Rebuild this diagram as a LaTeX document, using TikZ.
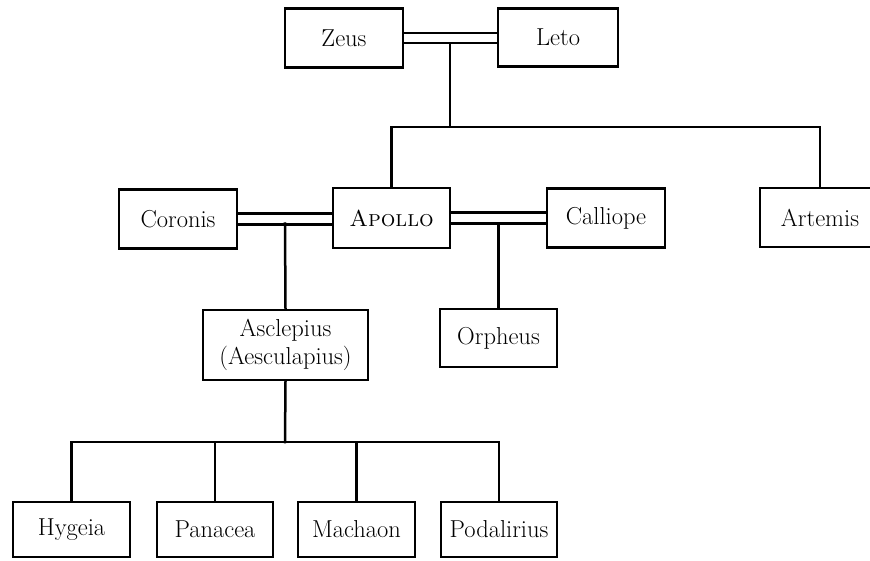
\documentclass[tikz,border=0pt]{standalone}
\usetikzlibrary{calc}
\begin{document}
\begin{tikzpicture}[x=1pt,y=-1pt,
  person/.style={draw, line width=2.5pt, inner sep=0pt, align=center,
    minimum width=118pt, minimum height=59pt,
    font=\fontsize{24.5}{28}\selectfont},
  link/.style={line width=2.5pt, line cap=rect},
]
\useasboundingbox (0,0) rectangle (870,560);
\clip (0,0) rectangle (870,560);

% first generation
\node[person] (Zeus) at (344,38) {Zeus};
\node[person, minimum width=120pt, minimum height=58pt] (Leto) at (558,37.5) {Leto};

% second generation
\node[person] (Coronis) at (178,219) {Coronis};
\node[person, minimum width=117pt, minimum height=60pt, font=\fontsize{23}{28}\selectfont] (Apollo) at (391.5,218) {\textsc{Apollo}};
\node[person] (Calliope) at (606,218) {Calliope};
\node[person, minimum width=120pt] (Artemis) at (820,217.5) {Artemis};

% third generation
\node[person, minimum width=165pt, minimum height=70pt] (Asclepius) at (285.5,345) {Asclepius\\(Aesculapius)};
\node[person, minimum width=117pt, minimum height=58pt] (Orpheus) at (498.5,338) {Orpheus};

% fourth generation
\node[person, minimum width=117pt, minimum height=55pt] (Hygeia) at (71.5,529.5) {Hygeia};
\node[person, minimum width=116pt, minimum height=55pt] (Panacea) at (215,529.5) {Panacea};
\node[person, minimum width=117pt, minimum height=55pt] (Machaon) at (356.5,529.5) {Machaon};
\node[person, minimum width=116pt, minimum height=55pt] (Podalirius) at (499,529.5) {Podalirius};

% junction points
\coordinate (zlDrop) at (450,43);
\coordinate (zlBar) at (450,127);
\coordinate (caDrop) at (285,223.5);
\coordinate (acDrop) at (498.5,223.5);
\coordinate (asBar) at (285,442);

% marriages (double lines)
\draw[link] ([yshift=5pt]Zeus.east) -- ([yshift=5pt]Zeus.east -| Leto.west);
\draw[link] ([yshift=-5pt]Zeus.east) -- ([yshift=-5pt]Zeus.east -| Leto.west);
\draw[link] ([yshift=5.5pt]Coronis.east) -- ([yshift=5.5pt]Coronis.east -| Apollo.west);
\draw[link] ([yshift=-5.5pt]Coronis.east) -- ([yshift=-5.5pt]Coronis.east -| Apollo.west);
\draw[link] ([yshift=5.5pt]Apollo.east) -- ([yshift=5.5pt]Apollo.east -| Calliope.west);
\draw[link] ([yshift=-5.5pt]Apollo.east) -- ([yshift=-5.5pt]Apollo.east -| Calliope.west);

% children of Zeus and Leto
\draw[link] (zlDrop) -- (zlBar);
\draw[link] (Apollo.north) -- (Apollo.north |- zlBar) -- (Artemis.north |- zlBar) -- (Artemis.north);

% children of Apollo
\draw[link] (caDrop) -- (Asclepius.north);
\draw[link] (acDrop) -- (Orpheus.north);

% children of Asclepius
\draw[link] (Asclepius.south) -- (asBar);
\draw[link] (Hygeia.north) -- (Hygeia.north |- asBar) -- (Podalirius.north |- asBar) -- (Podalirius.north);
\draw[link] (Panacea.north) -- (Panacea.north |- asBar);
\draw[link] (Machaon.north) -- (Machaon.north |- asBar);
\end{tikzpicture}
\end{document}
